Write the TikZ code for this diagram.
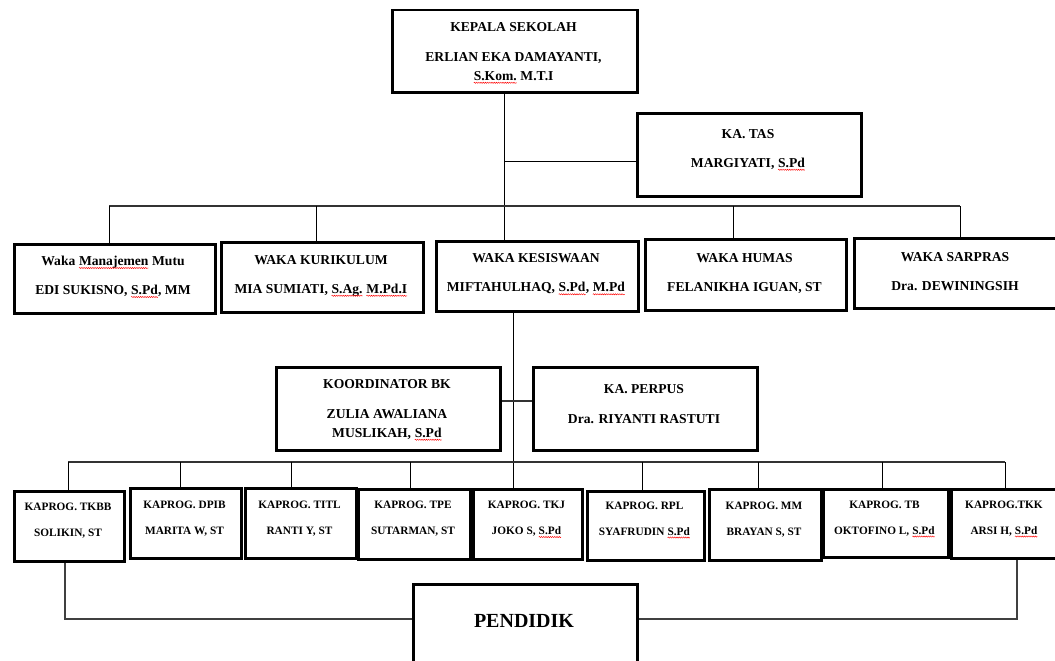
\documentclass[tikz,border=0pt]{standalone}
\usepackage{fontspec}
\setmainfont{Liberation Serif}
\usetikzlibrary{decorations.pathmorphing}
\newcommand\sqw[1]{\tikz[baseline=(w.base)]{\node[inner sep=0pt,outer sep=0pt,anchor=base](w){#1};\draw[red, line width=0.45pt, decorate, decoration={snake,amplitude=0.6pt,segment length=2.2pt}]([yshift=-2.4pt]w.base west)--([yshift=-2.4pt]w.base east);}}
\tikzset{
  box/.style={draw, line width=2.5pt, inner sep=0pt, anchor=north west},
  txt/.style={font=\bfseries\fontsize{13.6}{29}\selectfont, align=center, inner sep=0pt, yshift=-2pt},
  txtk/.style={font=\bfseries\fontsize{11.3}{26}\selectfont, align=center, inner sep=0pt, yshift=-2pt},
  conn/.style={line width=1pt},
  bus/.style={line width=1.6pt, draw=black!80},
  low/.style={line width=1.4pt, draw=black!75}
}
\newcommand\bx[5]{\node[box, minimum width={(#4-#2)*1pt}, minimum height={(#5-#3)*1pt}] (#1) at (#2,#3) {};}
\begin{document}
\begin{tikzpicture}[x=1pt,y=-1pt]
\clip (0,0) rectangle (1055,661);
\fill[white] (0,0) rectangle (1055,661);
% boxes
\bx{kepala}{391}{9}{636}{91}
\bx{tas}{636}{112}{860}{195}
\bx{mutu}{13}{243}{214}{312}
\bx{kurik}{220}{241}{422}{311}
\bx{kesis}{435}{240}{637}{310}
\bx{humas}{644}{238}{845}{309}
\bx{sarpras}{853}{237}{1059}{307}
\bx{koord}{275}{366}{499}{449}
\bx{perpus}{532}{366}{756}{449}
\bx{tkbb}{13}{490}{123}{560}
\bx{dpib}{129}{487}{240}{557}
\bx{titl}{244}{487}{355}{557}
\bx{tpe}{357}{488}{469}{558}
\bx{tkj}{472}{488}{581}{558}
\bx{rpl}{586}{490}{703}{559}
\bx{mm}{708}{488}{820}{559}
\bx{tb}{822}{488}{947}{556}
\bx{tkk}{950}{488}{1059}{557}
\bx{pend}{412}{583}{636}{690}
% texts
\node[txt, font=\bfseries\fontsize{13.6}{19}\selectfont] (kepalaT) at (513.5,51) {KEPALA SEKOLAH\\[11pt]ERLIAN EKA DAMAYANTI,\\\sqw{S.Kom.} M.T.I};
\node[txt] (tasT) at (748,148) {KA. TAS\\MARGIYATI, \sqw{S.Pd}};
\node[txt] (mutuT) at (113,275) {Waka \sqw{Manajemen} Mutu\\EDI SUKISNO, \sqw{S.Pd}, MM};
\node[txt] (kurikT) at (321,274) {WAKA KURIKULUM\\MIA SUMIATI, \sqw{S.Ag.} \sqw{M.Pd.I}};
\node[txt] (kesisT) at (536,272.5) {WAKA KESISWAAN\\MIFTAHULHAQ, \sqw{S.Pd}, \sqw{M.Pd}};
\node[txt] (humasT) at (744.5,271.5) {WAKA HUMAS\\FELANIKHA IGUAN, ST};
\node[txt] (sarprasT) at (955,270) {WAKA SARPRAS\\Dra. DEWININGSIH};
\node[txt, font=\bfseries\fontsize{13.6}{19}\selectfont] (koordT) at (387,408) {KOORDINATOR BK\\[11pt]ZULIA AWALIANA\\MUSLIKAH, \sqw{S.Pd}};
\node[txt, font=\bfseries\fontsize{13.6}{30}\selectfont, yshift=0.5pt] (perpusT) at (644,402.5) {KA. PERPUS\\Dra. RIYANTI RASTUTI};
\node[txtk] (tkbbT) at (68,519) {KAPROG. TKBB\\SOLIKIN, ST};
\node[txtk] (dpibT) at (184.5,516.5) {KAPROG. DPIB\\MARITA W, ST};
\node[txtk] (titlT) at (299.5,516.5) {KAPROG. TITL\\RANTI Y, ST};
\node[txtk] (tpeT) at (413,517) {KAPROG. TPE\\SUTARMAN, ST};
\node[txtk] (tkjT) at (526.5,517.5) {KAPROG. TKJ\\JOKO S, \sqw{S.Pd}};
\node[txtk] (rplT) at (644.5,518) {KAPROG. RPL\\SYAFRUDIN \sqw{S.Pd}};
\node[txtk] (mmT) at (764,517.5) {KAPROG. MM\\BRAYAN S, ST};
\node[txtk] (tbT) at (884.5,517) {KAPROG. TB\\OKTOFINO L, \sqw{S.Pd}};
\node[txtk] (tkkT) at (1004,517) {KAPROG.TKK\\ARSI H, \sqw{S.Pd}};
\node[font=\bfseries\fontsize{20}{24}\selectfont, inner sep=0pt] (pendT) at (524,621) {PENDIDIK};
% helper coordinates
\coordinate (xk) at (504,0);
\coordinate (yt) at (0,161);
\coordinate (bl) at (109,206);
\coordinate (br) at (960,206);
\coordinate (d2) at (316,206);
\coordinate (d4) at (733,206);
\coordinate (xm) at (513,0);
\coordinate (yl) at (0,401);
\coordinate (cl) at (68,462);
\coordinate (cr) at (1005,462);
\coordinate (c2) at (180,462);
\coordinate (c3) at (291,462);
\coordinate (c4) at (410,462);
\coordinate (c6) at (642,462);
\coordinate (c7) at (758,462);
\coordinate (c8) at (882,462);
\coordinate (xb1) at (65,0);
\coordinate (xb2) at (1017,0);
\coordinate (yb) at (0,619);
% top connectors
\draw[conn] (kepala.south -| xk) -- (kesis.north -| xk);
\draw[conn] (xk |- yt) -- (tas.west |- yt);
\draw[bus] (bl) -- (br);
\draw[conn] (bl) -- (mutu.north -| bl);
\draw[conn] (d2) -- (kurik.north -| d2);
\draw[conn] (d4) -- (humas.north -| d4);
\draw[conn] (br) -- (sarpras.north -| br);
% middle connectors
\draw[conn] (kesis.south -| xm) -- (tkj.north -| xm);
\draw[bus] (koord.east |- yl) -- (perpus.west |- yl);
\draw[bus] (cl) -- (cr);
\draw[conn] (cl) -- (tkbb.north -| cl);
\draw[conn] (c2) -- (dpib.north -| c2);
\draw[conn] (c3) -- (titl.north -| c3);
\draw[conn] (c4) -- (tpe.north -| c4);
\draw[conn] (c6) -- (rpl.north -| c6);
\draw[conn] (c7) -- (mm.north -| c7);
\draw[conn] (c8) -- (tb.north -| c8);
\draw[conn] (cr) -- (tkk.north -| cr);
% bottom connectors
\draw[low] (tkbb.south -| xb1) |- (pend.west |- yb);
\draw[low] (tkk.south -| xb2) |- (pend.east |- yb);
\end{tikzpicture}
\end{document}
